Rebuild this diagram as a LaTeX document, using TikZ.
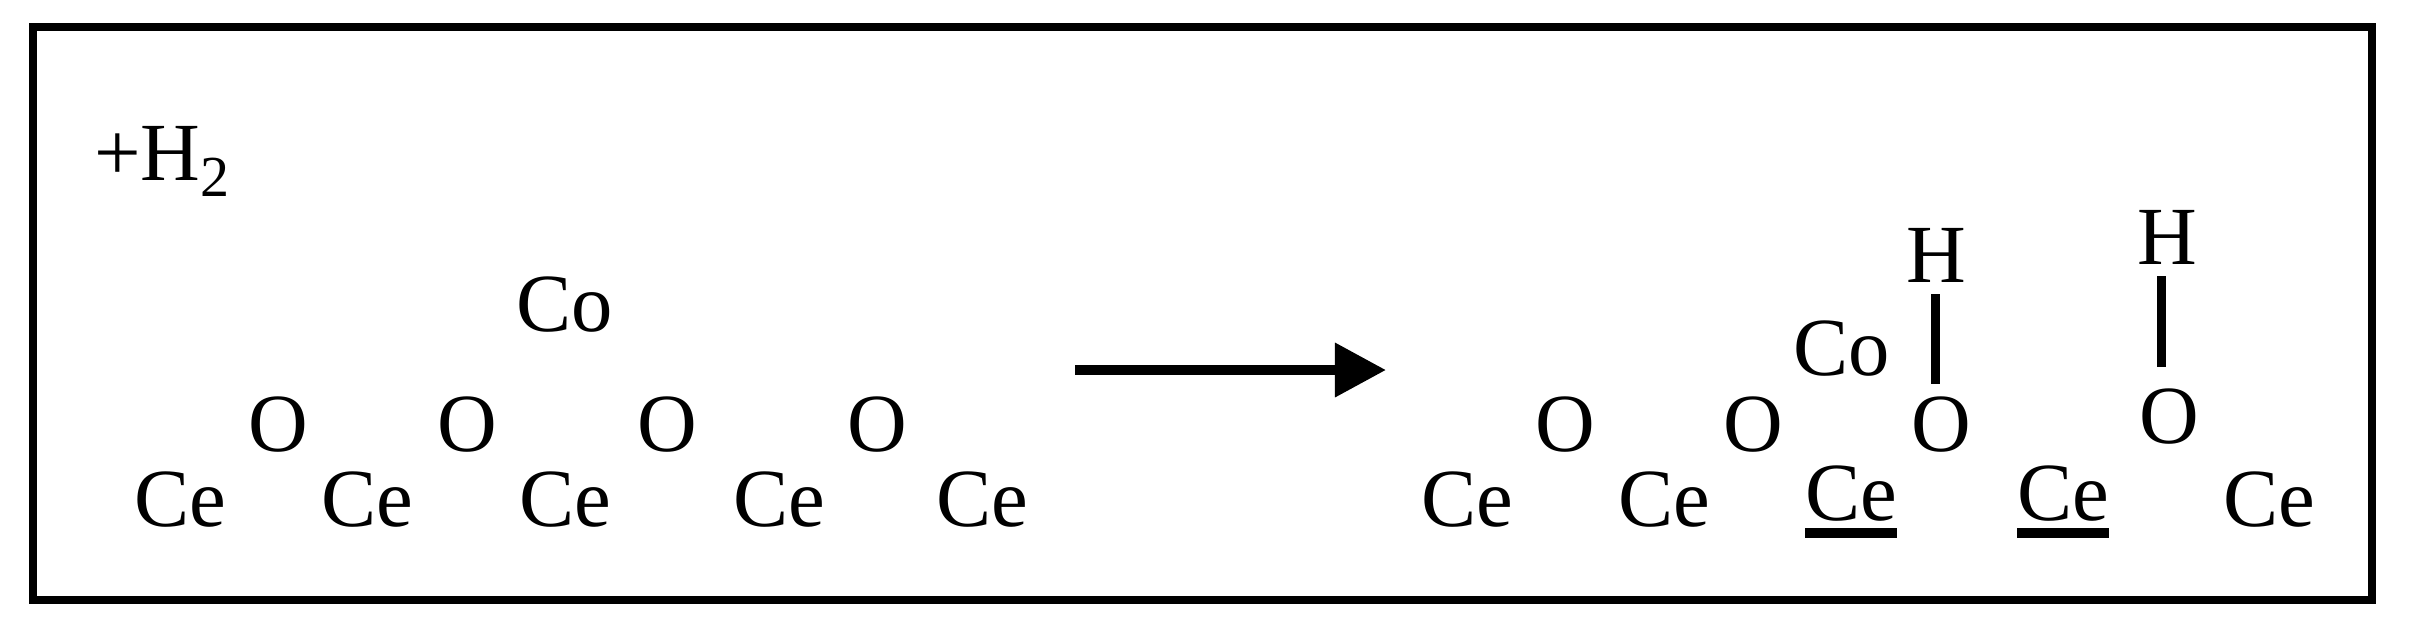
\documentclass[tikz,border=0pt]{standalone}
\usepackage{fontspec}
\setmainfont{Liberation Serif}
\usetikzlibrary{arrows.meta}

\begin{document}
\begin{tikzpicture}[x=0.01cm, y=-0.01cm]
    \tikzset{Atom/.style = {font=\fontsize{23.5}{23.5}\selectfont, anchor=base, inner sep=0pt, outer sep=0.12cm}}
    \tikzset{Bond/.style = {line width=0.09cm}}
    \tikzset{UnderBar/.style = {line width=0.1cm, yshift=-0.03cm, shorten <=0.12cm, shorten >=0.12cm}}
    \useasboundingbox (0,0) rectangle (2409,638);
    \draw[line width=0.075cm] (33,27) rectangle (2372,600);

    % Left side
    \node[Atom] (h2gas) at (162,180) {+H\raisebox{-4.8pt}{\fontsize{16.5}{16.5}\selectfont 2}};
    \node[Atom] (co1) at (565,331) {Co};
    \node[Atom] (o1) at (278,451) {O};
    \node[Atom] (o2) at (467,451) {O};
    \node[Atom] (o3) at (667,451) {O};
    \node[Atom] (o4) at (877,451) {O};
    \node[Atom] (ce1) at (180,526) {Ce};
    \node[Atom] (ce2) at (367,526) {Ce};
    \node[Atom] (ce3) at (565,526) {Ce};
    \node[Atom] (ce4) at (779,526) {Ce};
    \node[Atom] (ce5) at (982,526) {Ce};

    % Right side
    \node[Atom] (co2) at (1842,375) {Co};
    \node[Atom] (h3) at (1936,282) {H};
    \node[Atom] (h4) at (2167,264) {H};
    \node[Atom] (o5) at (1565,451) {O};
    \node[Atom] (o6) at (1753,451) {O};
    \node[Atom] (o7) at (1941,451) {O};
    \node[Atom] (o8) at (2169,443) {O};
    \node[Atom] (ce6) at (1467,526) {Ce};
    \node[Atom] (ce7) at (1664,526) {Ce};
    \node[Atom] (ce8) at (1851,520) {Ce};
    \node[Atom] (ce9) at (2063,520) {Ce};
    \node[Atom] (ce10) at (2269,526) {Ce};

    % Arrow
    \coordinate (start) at (1075,370);
    \coordinate (end) at (1386,370);
    \draw[line width=0.1cm, -{Triangle[length=0.51cm, width=0.52cm]}] (start) -- (end);

    % Bonds
    \coordinate (bond3) at (1935.5,0);
    \coordinate (bond4) at (2161.5,0);
    \draw[Bond] (bond3 |- h3.south) -- (bond3 |- o7.north);
    \draw[Bond, shorten >=0.09cm] (bond4 |- h4.south) -- (bond4 |- o8.north);

    % Underlines
    \draw[UnderBar] (ce8.south west) -- (ce8.south east);
    \draw[UnderBar] (ce9.south west) -- (ce9.south east);
\end{tikzpicture}
\end{document}
